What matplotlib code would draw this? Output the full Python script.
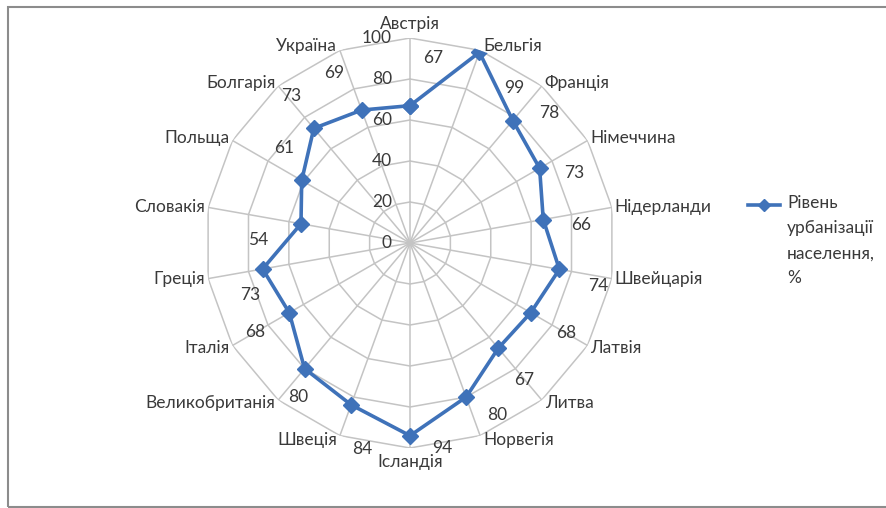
import numpy as np
import matplotlib.pyplot as plt
from matplotlib.lines import Line2D
from matplotlib.patches import Rectangle

countries = ["Австрія", "Бельгія", "Франція", "Німеччина", "Нідерланди",
             "Швейцарія", "Латвія", "Литва", "Норвегія", "Ісландія",
             "Швеція", "Великобританія", "Італія", "Греція", "Словакія",
             "Польща", "Болгарія", "Україна"]
urban = [67, 99, 78, 73, 66, 74, 68, 67, 80, 94, 84, 80, 68, 73, 54, 61, 73, 69]
r_ticks = [0, 20, 40, 60, 80, 100]
series_name = "Рівень\nурбанізації\nнаселення,\n%"

# where excel dropped the value labels (angle shift in deg, radius)
lab_shift = [7, 14, 7, 7, 4, 3, 0, 0, -7, -9, -7, -4, 0, -8, -9, 7, 1, -4]
lab_r = [91, 91, 93, 87, 84, 94, 88, 87, 94, 101, 103, 93, 87, 82, 74, 77, 92, 91]

plt.rcParams['font.family'] = ['Lato', 'DejaVu Sans']
txt = '#3a3a3a'
grid = '#c4c4c4'
blue = '#3f72b9'
fs = 12.5

W, H = 887, 508
fig = plt.figure(figsize=(W / 100, H / 100), dpi=100)
fig.patches.append(Rectangle((8 / W, 1 - 507 / H), 1.0, 500 / H, transform=fig.transFigure,
                             fill=False, ec='#8c8c8c', lw=1.5))

cx, cy, R = 410, 243, 205
ax = fig.add_axes([(cx - R) / W, (H - cy - R) / H, 2 * R / W, 2 * R / H], projection='polar')
ax.set_theta_zero_location('N')
ax.set_theta_direction(-1)
ax.set_ylim(0, 100)
ax.grid(False)
ax.spines['polar'].set_visible(False)
ax.set_xticks([])
ax.set_yticks([])
ax.patch.set_alpha(0)

n = len(countries)
ang = np.arange(n) * 2 * np.pi / n
ang_c = np.append(ang, ang[0])

for r in r_ticks[1:]:
    ax.plot(ang_c, [r] * (n + 1), color=grid, lw=1.1, zorder=1)
for a in ang:
    ax.plot([a, a], [0, 100], color=grid, lw=1.1, zorder=1)

vals = np.append(urban, urban[0])
ax.plot(ang_c, vals, color=blue, lw=2.6, marker='D', ms=8, zorder=3)

for r in r_ticks:
    ax.annotate(str(r), (0, r), xytext=(-13, 0), textcoords='offset points',
                ha='right', va='center', fontsize=fs, color=txt)

for a, name in zip(ang, countries):
    s, c = np.sin(a), np.cos(a)
    if abs(s) < 0.1:
        ha = 'center'
        va = 'bottom' if c > 0 else 'top'
        off = (0, 4 * np.sign(c))
    else:
        ha = 'left' if s > 0 else 'right'
        va = 'center'
        off = (2 * np.sign(s), 3 * c)
    ax.annotate(name, (a, 100), xytext=off, textcoords='offset points',
                ha=ha, va=va, fontsize=fs, color=txt)

for a, v, d, lr in zip(ang, urban, lab_shift, lab_r):
    ax.text(a + np.deg2rad(d), lr, str(v), ha='center', va='center',
            fontsize=fs, color=txt)

# legend
ly = 1 - 205 / H
fig.add_artist(Line2D([748 / W, 780 / W], [ly, ly], transform=fig.transFigure,
                      color=blue, lw=2.6))
fig.add_artist(Line2D([764 / W], [ly], transform=fig.transFigure,
                      color=blue, marker='D', ms=6))
fig.text(787 / W, 1 - 195 / H, series_name, ha='left', va='top', fontsize=fs,
         color=txt, linespacing=1.7)

fig.savefig('out.png', dpi=100)
